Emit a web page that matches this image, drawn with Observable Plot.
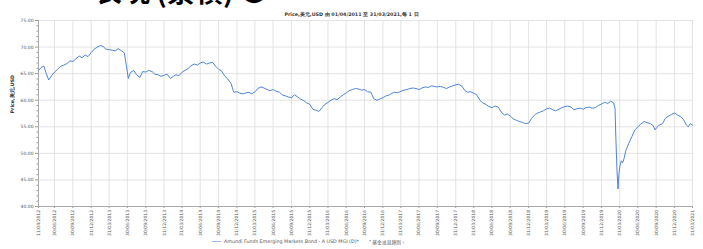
<!DOCTYPE html>
<html>
<head>
<meta charset="utf-8">
<script src="https://cdn.jsdelivr.net/npm/d3@7"></script>
<script src="https://cdn.jsdelivr.net/npm/@observablehq/plot@0.6"></script>
<style>
  html, body { margin: 0; padding: 0; background: #fff; }
  #wrap { position: relative; width: 703px; height: 249px; overflow: hidden; font-family: "DejaVu Sans", sans-serif; }
  #heading { position: absolute; left: 94px; top: -30px; font-size: 28px; font-weight: bold; color: #000; font-family: "Noto Sans CJK TC", sans-serif; white-space: nowrap; }
  #title { position: absolute; left: 0; width: 703px; top: 11px; text-align: center; font-size: 4.8px; font-weight: bold; color: #333; white-space: nowrap; }
  #legend { position: absolute; left: 212px; top: 238px; font-size: 4.8px; color: #555; white-space: nowrap; display: flex; align-items: center; }
  #legend .sw { display: inline-block; width: 9px; height: 1.6px; background: #9dbbe8; margin-right: 3px; }
  #legend .note { margin-left: 10px; font-family: "Noto Sans CJK TC", sans-serif; }
  #chart { position: absolute; left: 0; top: 0; }
</style>
</head>
<body>
<div id="wrap">
  <div id="chart"></div>
  <div id="heading">表現 (累積) ●</div>
  <div id="title"></div>
  <div id="legend"><span class="sw"></span><span id="series"></span><span class="note"></span></div>
</div>
<script>
const titleText = "Price,美元,USD 由 01/04/2011 至 31/03/2021,每 1 日";
const yLabel = "Price,美元,USD";
const seriesName = "Amundi Funds Emerging Markets Bond - A USD MGI (D)*";
const noteText = "* 基金派息類別。";

const yTicks = [40, 45, 50, 55, 60, 65, 70, 75];
const yMinor = [41,42,43,44,46,47,48,49,51,52,53,54,56,57,58,59,61,62,63,64,66,67,68,69,71,72,73,74];

const xTickLabels = [
  "11/04/2012","30/06/2012","30/09/2012","31/12/2012",
  "31/03/2013","30/06/2013","30/09/2013","31/12/2013",
  "31/03/2014","30/06/2014","30/09/2014","31/12/2014",
  "31/03/2015","30/06/2015","30/09/2015","31/12/2015",
  "31/03/2016","30/06/2016","30/09/2016","31/12/2016",
  "31/03/2017","30/06/2017","30/09/2017","31/12/2017",
  "31/03/2018","30/06/2018","30/09/2018","31/12/2018",
  "31/03/2019","30/06/2019","30/09/2019","31/12/2019",
  "31/03/2020","30/06/2020","30/09/2020","31/12/2020",
  "31/03/2021"
];

const p2012 = [["2012-04-11",65.6],["2012-04-25",66.2],["2012-05-08",66.4],["2012-05-20",65.0],["2012-06-01",63.8],["2012-06-15",64.6],["2012-07-01",65.3],["2012-07-15",65.8],["2012-08-01",66.4],["2012-08-15",66.6],["2012-09-01",66.9],["2012-09-15",67.4],["2012-10-01",67.3],["2012-10-15",67.8],["2012-11-01",68.3],["2012-11-15",68.0],["2012-12-01",68.5],["2012-12-15",68.2]];
const p2013 = [["2013-01-01",69.0],["2013-01-15",69.6],["2013-02-01",70.0],["2013-02-15",70.3],["2013-03-01",70.1],["2013-03-15",69.6],["2013-04-01",69.5],["2013-04-15",69.4],["2013-05-01",69.3],["2013-05-15",69.7],["2013-06-01",69.3],["2013-06-15",68.9],["2013-06-25",66.5],["2013-07-05",64.1],["2013-07-15",65.2],["2013-08-01",65.6],["2013-08-15",64.8],["2013-09-01",64.3],["2013-09-15",65.4],["2013-10-01",65.3],["2013-10-15",65.6],["2013-11-01",65.4],["2013-11-15",64.9],["2013-12-01",64.8],["2013-12-15",64.5]];
const p2014 = [["2014-01-01",64.7],["2014-01-15",64.9],["2014-02-01",64.1],["2014-02-15",64.5],["2014-03-01",64.8],["2014-03-15",64.6],["2014-04-01",65.3],["2014-04-15",65.6],["2014-05-01",66.0],["2014-05-15",66.5],["2014-06-01",66.8],["2014-06-15",66.6],["2014-07-01",67.0],["2014-07-15",67.2],["2014-08-01",66.8],["2014-08-15",67.0],["2014-09-01",67.1],["2014-09-15",66.4],["2014-10-01",65.8],["2014-10-15",65.5],["2014-11-01",64.5],["2014-11-15",64.0],["2014-12-01",63.2],["2014-12-15",61.5]];
const p2015 = [["2015-01-01",61.6],["2015-01-15",61.3],["2015-02-01",61.2],["2015-02-15",61.4],["2015-03-01",61.5],["2015-03-15",61.2],["2015-04-01",61.6],["2015-04-15",62.2],["2015-05-01",62.5],["2015-05-15",62.3],["2015-06-01",62.0],["2015-06-15",61.8],["2015-07-01",62.0],["2015-07-15",61.7],["2015-08-01",61.5],["2015-08-15",61.0],["2015-09-01",60.8],["2015-09-15",60.6],["2015-10-01",60.5],["2015-10-15",61.0],["2015-11-01",60.6],["2015-11-15",60.2],["2015-12-01",59.9],["2015-12-15",59.5]];
const p2016 = [["2016-01-01",59.2],["2016-01-15",58.3],["2016-02-01",58.1],["2016-02-15",57.9],["2016-03-01",58.6],["2016-03-15",59.2],["2016-04-01",59.6],["2016-04-15",60.0],["2016-05-01",60.3],["2016-05-15",60.1],["2016-06-01",60.6],["2016-06-15",61.0],["2016-07-01",61.4],["2016-07-15",61.8],["2016-08-01",62.0],["2016-08-15",62.2],["2016-09-01",62.1],["2016-09-15",61.9],["2016-10-01",62.0],["2016-10-15",61.6],["2016-11-01",61.5],["2016-11-15",60.3],["2016-12-01",60.0],["2016-12-15",60.2]];
const p2017 = [["2017-01-01",60.5],["2017-01-15",60.8],["2017-02-01",61.0],["2017-02-15",61.3],["2017-03-01",61.5],["2017-03-15",61.4],["2017-04-01",61.7],["2017-04-15",61.9],["2017-05-01",62.0],["2017-05-15",62.2],["2017-06-01",62.3],["2017-06-15",62.2],["2017-07-01",62.0],["2017-07-15",62.3],["2017-08-01",62.5],["2017-08-15",62.4],["2017-09-01",62.7],["2017-09-15",62.6],["2017-10-01",62.5],["2017-10-15",62.6],["2017-11-01",62.4],["2017-11-15",62.2],["2017-12-01",62.5],["2017-12-15",62.7]];
const p2018 = [["2018-01-01",62.9],["2018-01-15",63.0],["2018-02-01",62.6],["2018-02-15",61.8],["2018-03-01",61.5],["2018-03-15",61.6],["2018-04-01",61.3],["2018-04-15",61.0],["2018-05-01",60.0],["2018-05-15",59.5],["2018-06-01",59.2],["2018-06-15",58.8],["2018-07-01",58.6],["2018-07-15",58.9],["2018-08-01",58.7],["2018-08-15",57.8],["2018-09-01",57.2],["2018-09-15",57.4],["2018-10-01",57.0],["2018-10-15",56.5],["2018-11-01",56.2],["2018-11-15",56.0],["2018-12-01",55.8],["2018-12-15",55.6]];
const p2019 = [["2019-01-01",55.7],["2019-01-15",56.6],["2019-02-01",57.3],["2019-02-15",57.6],["2019-03-01",57.8],["2019-03-15",58.0],["2019-04-01",58.4],["2019-04-15",58.5],["2019-05-01",58.2],["2019-05-15",58.0],["2019-06-01",58.3],["2019-06-15",58.6],["2019-07-01",58.8],["2019-07-15",58.9],["2019-08-01",58.7],["2019-08-15",58.2],["2019-09-01",58.4],["2019-09-15",58.5],["2019-10-01",58.3],["2019-10-15",58.6],["2019-11-01",58.7],["2019-11-15",58.5],["2019-12-01",58.6],["2019-12-15",59.0]];
const p2020 = [["2020-01-01",59.3],["2020-01-15",59.6],["2020-02-01",59.4],["2020-02-15",59.8],["2020-03-01",59.5],["2020-03-08",58.5],["2020-03-12",53.0],["2020-03-18",46.5],["2020-03-23",43.3],["2020-03-27",46.0],["2020-04-01",47.5],["2020-04-08",48.6],["2020-04-15",48.2],["2020-04-22",49.0],["2020-05-01",50.5],["2020-05-15",51.8],["2020-06-01",53.2],["2020-06-15",54.4],["2020-07-01",55.0],["2020-07-15",55.5],["2020-08-01",56.0],["2020-08-15",55.8],["2020-09-01",55.6],["2020-09-15",55.2],["2020-09-25",54.4],["2020-10-01",54.8],["2020-10-15",55.3],["2020-11-01",55.6],["2020-11-15",56.6],["2020-12-01",57.0],["2020-12-15",57.3]];
const p2021 = [["2021-01-01",57.6],["2021-01-15",57.2],["2021-02-01",56.9],["2021-02-15",56.3],["2021-03-01",55.3],["2021-03-10",55.0],["2021-03-20",55.6],["2021-03-31",55.3]];

const parseIso = d3.utcParse("%Y-%m-%d");
const parseDmy = d3.utcParse("%d/%m/%Y");
const data = [...p2012, ...p2013, ...p2014, ...p2015, ...p2016, ...p2017, ...p2018, ...p2019, ...p2020, ...p2021]
  .map(([d, v]) => ({date: parseIso(d), value: v}));
const xTicks = xTickLabels.map(parseDmy);
const fmt = d3.utcFormat("%d/%m/%Y");

document.getElementById("title").textContent = titleText;
document.getElementById("series").textContent = seriesName;
document.querySelector("#legend .note").textContent = noteText;

const chart = Plot.plot({
  width: 703,
  height: 249,
  marginTop: 20,
  marginBottom: 43,
  marginLeft: 38,
  marginRight: 11,
  style: {fontFamily: "DejaVu Sans, sans-serif", fontSize: "4.5px", color: "#555", background: "transparent"},
  x: {type: "utc", domain: [xTicks[0], xTicks[xTicks.length - 1]]},
  y: {domain: [40, 75]},
  marks: [
    Plot.gridY(yTicks, {stroke: "#dcdcdc", strokeOpacity: 1, strokeWidth: 0.8}),
    Plot.gridX(xTicks, {stroke: "#dcdcdc", strokeOpacity: 1, strokeWidth: 0.8}),
    Plot.axisY(yMinor, {tickSize: 1.5, tickFormat: () => "", stroke: "#999", label: null}),
    Plot.axisY(yTicks, {tickSize: 3, tickPadding: 2, tickFormat: d => d.toFixed(2), stroke: "#999", label: null}),
    Plot.axisX(xTicks, {tickSize: 2, tickPadding: 1.5, tickRotate: -90, tickFormat: fmt, stroke: "#999", label: null}),
    Plot.frame({anchor: "left", stroke: "#aaa"}),
    Plot.frame({anchor: "bottom", stroke: "#aaa"}),
    Plot.text([yLabel], {frameAnchor: "left", rotate: -90, dx: -26, fontSize: 4.8, fontWeight: "bold", fill: "#222"}),
    Plot.line(data, {x: "date", y: "value", stroke: "#5084d6", strokeWidth: 1})
  ]
});
document.getElementById("chart").appendChild(chart);
</script>
</body>
</html>
